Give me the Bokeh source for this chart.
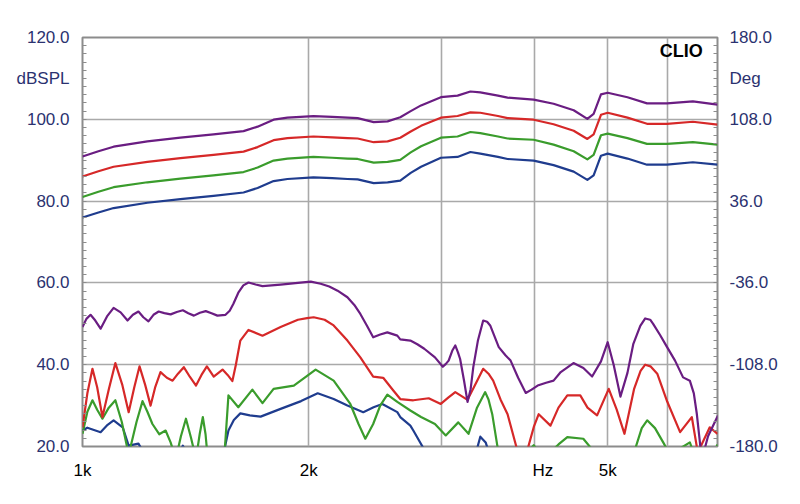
from bokeh.plotting import figure
from bokeh.models import Range1d, LinearAxis, FixedTicker, Label
from bokeh.embed import file_html
from bokeh.resources import INLINE

# ---------------- data ----------------
freq_upper = [1000, 1050, 1100, 1220, 1350, 1494, 1638, 1710, 1796, 1874, 2029, 2150, 2253,
              2324, 2441, 2547, 2648, 2734, 2822, 2999, 3156, 3283, 3384, 3572, 3679, 3985,
              4236, 4505, 4698, 4789, 4898, 5000, 5312, 5640, 5997, 6491, 7000]
spl_purple = [90.9, 92.2, 93.3, 94.6, 95.5, 96.3, 97.1, 98.2, 99.9, 100.4, 100.8, 100.6, 100.4,
              100.3, 99.3, 99.5, 100.5, 102.0, 103.4, 105.4, 105.8, 106.8, 106.6, 105.8, 105.3, 104.8,
              103.8, 102.2, 100.1, 101.3, 106.1, 106.5, 105.4, 103.9, 103.9, 104.4, 103.6]
spl_red = [86.0, 87.3, 88.4, 89.6, 90.5, 91.3, 92.1, 93.2, 94.9, 95.4, 95.8, 95.6, 95.4,
           95.3, 94.4, 94.6, 95.5, 97.0, 98.4, 100.4, 100.8, 101.7, 101.6, 100.8, 100.3, 99.9,
           98.8, 97.2, 95.2, 96.3, 101.1, 101.6, 100.4, 98.9, 98.9, 99.4, 98.7]
spl_green = [81.0, 82.3, 83.4, 84.6, 85.5, 86.3, 87.1, 88.2, 89.9, 90.4, 90.8, 90.6, 90.4,
             90.3, 89.4, 89.6, 90.1, 91.9, 93.4, 95.5, 95.8, 96.9, 96.6, 95.8, 95.3, 95.0,
             93.8, 92.2, 90.2, 91.3, 96.1, 96.5, 95.4, 94.0, 94.0, 94.4, 93.8]
spl_blue = [76.0, 77.2, 78.3, 79.6, 80.5, 81.3, 82.1, 83.2, 84.9, 85.4, 85.8, 85.6, 85.4,
            85.3, 84.4, 84.6, 85.0, 86.9, 88.4, 90.6, 90.8, 92.0, 91.6, 90.8, 90.3, 89.9,
            88.8, 87.2, 85.2, 86.3, 91.1, 91.6, 90.4, 88.9, 88.9, 89.5, 88.9]

freq_low_purple = [1000, 1012, 1025, 1040, 1057, 1078, 1100, 1124, 1148, 1167, 1187, 1205, 1224,
                   1243, 1263, 1285, 1310, 1335, 1360, 1383, 1407, 1433, 1459, 1485, 1512, 1550,
                   1570, 1588, 1612, 1637, 1663, 1700, 1736, 1835, 1935, 2013, 2075, 2130, 2185,
                   2252, 2300, 2343, 2390, 2437, 2490, 2545, 2624, 2648, 2731, 2790, 2850, 2945,
                   3017, 3045, 3071, 3105, 3134, 3160, 3181, 3220, 3254, 3285, 3312, 3360, 3414,
                   3455, 3488, 3581, 3655, 3713, 3800, 3890, 3960, 4034, 4140, 4236, 4330, 4502,
                   4641, 4767, 4898, 5000, 5092, 5199, 5312, 5409, 5525, 5609, 5695, 5747, 5873,
                   5998, 6146, 6299, 6431, 6510, 6570, 6660, 6720, 6800, 6890, 7010]
low_purple = [49.2, 51.2, 52.2, 50.8, 48.8, 51.8, 53.9, 52.8, 50.8, 52.2, 53.0, 51.6, 50.6,
              52.2, 53.0, 52.6, 52.3, 52.9, 53.3, 52.6, 52.0, 52.7, 53.1, 52.6, 52.0, 52.2,
              53.2, 54.9, 57.6, 59.4, 60.1, 59.6, 59.2, 59.6, 60.0, 60.3, 59.8, 59.1, 58.1,
              56.5, 54.6, 52.4, 49.6, 46.7, 47.4, 47.9, 47.1, 46.2, 45.9, 45.0, 43.9, 41.8,
              39.5, 40.2, 41.0, 43.4, 44.7, 43.0, 41.4, 36.0, 30.9, 34.0, 39.4, 46.0, 50.8,
              50.5, 49.6, 44.3, 42.3, 41.0, 36.8, 33.1, 33.9, 34.9, 35.6, 36.1, 38.2, 40.4,
              39.2, 37.1, 40.8, 45.5, 40.0, 32.2, 38.0, 45.1, 49.5, 51.3, 51.0, 50.0, 47.2,
              44.3, 41.0, 36.9, 36.1, 33.0, 28.0, 18.0, 19.0, 22.5, 24.7, 27.6]

freq_low_red = [1000, 1015, 1031, 1046, 1063, 1084, 1106, 1130, 1152, 1172, 1191, 1212, 1232,
                1250, 1270, 1295, 1318, 1340, 1364, 1390, 1416, 1440, 1464, 1495, 1536, 1560,
                1583, 1600, 1622, 1663, 1736, 1835, 1935, 1990, 2031, 2100, 2159, 2252, 2343,
                2437, 2513, 2592, 2648, 2756, 2889, 2998, 3070, 3134, 3254, 3340, 3414, 3470,
                3520, 3600, 3679, 3791, 3914, 3990, 4047, 4196, 4300, 4418, 4597, 4700, 4840,
                5016, 5140, 5264, 5420, 5530, 5609, 5700, 5820, 6000, 6242, 6470, 6590, 6836,
                7000]
low_red = [24.7, 33.0, 39.0, 34.5, 27.2, 34.0, 40.4, 35.0, 28.4, 34.5, 39.6, 35.0, 30.0,
           34.6, 38.2, 36.8, 36.1, 37.8, 39.4, 37.0, 34.9, 37.5, 39.6, 37.1, 38.8, 37.5,
           36.0, 40.0, 45.9, 48.5, 47.1, 49.2, 51.0, 51.4, 51.6, 51.0, 49.6, 45.9, 41.8,
           37.1, 36.8, 33.7, 31.6, 31.3, 31.8, 30.4, 32.0, 33.3, 31.4, 35.5, 39.0, 37.8,
           36.1, 31.5, 27.9, 19.0, 19.5, 25.0, 27.9, 25.1, 29.5, 32.5, 32.5, 29.5, 27.6,
           34.1, 29.0, 23.1, 34.0, 38.5, 40.0, 39.6, 37.8, 31.0, 23.5, 27.2, 18.5, 24.7,
           23.1]

freq_low_green = [1000, 1015, 1031, 1046, 1063, 1084, 1106, 1128, 1152, 1180, 1202, 1220, 1239,
                  1265, 1290, 1310, 1331, 1352, 1373, 1395, 1416, 1432, 1446, 1458, 1468, 1527,
                  1545, 1564, 1612, 1683, 1736, 1796, 1911, 2043, 2159, 2272, 2330, 2379, 2437,
                  2490, 2545, 2624, 2731, 2822, 2945, 3044, 3163, 3264, 3350, 3435, 3470, 3510,
                  3581, 3750, 3986, 4110, 4300, 4418, 4640, 4781, 5000, 5409, 5550, 5643, 5780,
                  5927, 6053, 6431, 6520, 6900, 7000]
low_green = [23.1, 28.5, 31.3, 29.0, 26.8, 29.5, 31.3, 26.0, 18.0, 26.0, 31.1, 28.5, 25.5,
             23.0, 23.9, 21.0, 17.0, 22.5, 26.8, 22.0, 17.0, 23.0, 27.2, 23.0, 17.0, 15.0,
             18.0, 32.5, 29.6, 33.9, 30.6, 34.1, 34.9, 38.8, 36.1, 30.4, 25.5, 21.9, 25.5,
             30.0, 32.7, 30.9, 28.8, 27.2, 25.5, 22.7, 25.9, 23.1, 29.5, 33.3, 31.5, 27.9,
             18.0, 15.0, 20.3, 17.0, 20.5, 22.3, 21.9, 19.0, 15.0, 18.0, 24.5, 26.4, 24.5,
             21.0, 18.0, 21.0, 18.0, 18.0, 20.5]

freq_low_blue = [1000, 1015, 1057, 1080, 1100, 1131, 1152, 1187, 1220, 1340, 1360, 1390, 1527,
                 1564, 1590, 1622, 1670, 1726, 1835, 1954, 2056, 2159, 2252, 2364, 2440, 2506,
                 2624, 2648, 2731, 2756, 2917, 3300, 3384, 3440, 3510, 7000]
low_blue = [23.9, 24.6, 23.5, 25.3, 26.4, 24.7, 20.2, 20.7, 17.0, 18.0, 20.2, 17.0, 15.0,
            23.9, 26.5, 28.1, 27.6, 27.3, 29.2, 31.1, 33.0, 31.6, 30.0, 28.4, 29.6, 30.4,
            28.4, 27.2, 25.1, 23.9, 16.0, 15.0, 22.4, 21.0, 16.0, 10.0]

left_ticks = [20, 40, 60, 80, 100, 110, 120]
left_labels = ["20.0", "40.0", "60.0", "80.0", "100.0", "dBSPL", "120.0"]
right_ticks = [-180, -108, -36, 36, 108, 144, 180]
right_labels = ["-180.0", "-108.0", "-36.0", "36.0", "108.0", "Deg", "180.0"]
x_ticks = [1000, 2000, 4100, 5000]
x_labels = ["1k", "2k", "Hz", "5k"]
x_grid = [2000, 3000, 4000, 5000, 6000]
y_grid = [40, 60, 80, 100]

C_PURPLE = "#6a1d82"
C_RED = "#d62828"
C_GREEN = "#3a9c2c"
C_BLUE = "#1f3c8e"
NAVY = "#2b3270"
FONT = "Liberation Sans"

# ---------------- figure ----------------
p = figure(width=800, height=504, x_axis_type="log",
           x_range=Range1d(1000, 7000), y_range=Range1d(20, 120),
           output_backend="svg", toolbar_location=None,
           min_border_left=82, min_border_right=83, min_border_top=37, min_border_bottom=58)
p.background_fill_color = "white"
p.border_fill_color = "white"
p.outline_line_color = "#8c8c8c"
p.outline_line_width = 2

p.extra_y_ranges = {"deg": Range1d(-180, 180)}

# grids
p.xgrid.ticker = FixedTicker(ticks=x_grid)
p.ygrid.ticker = FixedTicker(ticks=y_grid)
for g in (p.xgrid, p.ygrid):
    g.grid_line_color = "#a9a9a9"
    g.grid_line_width = 1.6

# left axis
ya = p.yaxis[0]
ya.ticker = FixedTicker(ticks=left_ticks, minor_ticks=list(range(20, 121, 2)))
ya.major_label_overrides = {t: l for t, l in zip(left_ticks, left_labels)}
ya.axis_line_color = None
ya.major_tick_line_color = None
ya.minor_tick_line_color = "#8c8c8c"
ya.minor_tick_in = 4
ya.minor_tick_out = 0
ya.major_label_standoff = 7
ya.major_label_text_font = FONT
ya.major_label_text_font_size = "17px"
ya.major_label_text_color = NAVY

# right axis
ra = LinearAxis(y_range_name="deg")
ra.ticker = FixedTicker(ticks=right_ticks, minor_ticks=[-180 + 7.2 * i for i in range(51)])
ra.major_label_overrides = {t: l for t, l in zip(right_ticks, right_labels)}
ra.axis_line_color = None
ra.major_tick_line_color = None
ra.minor_tick_line_color = "#8c8c8c"
ra.minor_tick_in = 4
ra.minor_tick_out = 0
ra.major_label_standoff = 6
ra.major_label_text_font = FONT
ra.major_label_text_font_size = "17px"
ra.major_label_text_color = NAVY
p.add_layout(ra, "right")

# bottom axis
xa = p.xaxis[0]
xa.ticker = FixedTicker(ticks=x_ticks)
xa.major_label_overrides = {t: l for t, l in zip(x_ticks, x_labels)}
xa.axis_line_color = None
xa.major_tick_line_color = None
xa.minor_tick_line_color = None
xa.major_label_standoff = 8
xa.major_label_text_font = FONT
xa.major_label_text_font_size = "17px"
xa.major_label_text_color = "black"

# curves
LW = 2.2
p.line(freq_low_blue, low_blue, line_color=C_BLUE, line_width=LW, line_join="round")
p.line(freq_low_green, low_green, line_color=C_GREEN, line_width=LW, line_join="round")
p.line(freq_low_red, low_red, line_color=C_RED, line_width=LW, line_join="round")
p.line(freq_low_purple, low_purple, line_color=C_PURPLE, line_width=LW, line_join="round")

p.line(freq_upper, spl_blue, line_color=C_BLUE, line_width=LW, line_join="round")
p.line(freq_upper, spl_green, line_color=C_GREEN, line_width=LW, line_join="round")
p.line(freq_upper, spl_red, line_color=C_RED, line_width=LW, line_join="round")
p.line(freq_upper, spl_purple, line_color=C_PURPLE, line_width=LW, line_join="round")

p.add_layout(Label(x=6690, y=116.8, text="CLIO", text_align="right", text_baseline="middle",
                   text_font=FONT, text_font_style="bold", text_font_size="18px",
                   text_color="black"))

open("out.html", "w").write(file_html(p, INLINE))
